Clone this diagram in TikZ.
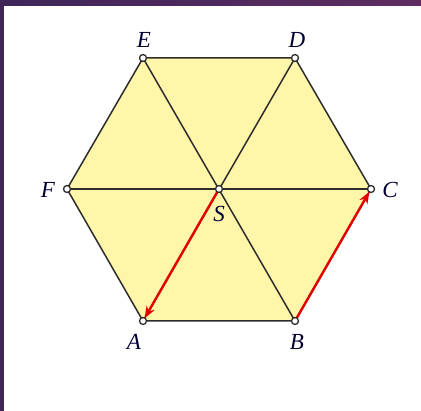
\documentclass[tikz,border=0pt]{standalone}
\usepackage{fontspec}
\setmainfont{Liberation Serif}
\usetikzlibrary{arrows.meta}
\definecolor{hexfill}{RGB}{255,246,170}
\definecolor{edgegray}{RGB}{45,45,45}
\definecolor{framel}{RGB}{62,38,88}
\definecolor{framer}{RGB}{94,44,98}
\begin{document}
\begin{tikzpicture}[x=1pt, y=-1pt,
    vertex/.style={circle, draw=edgegray, fill=white, line width=1.3pt, inner sep=0pt, minimum size=7pt},
    label/.style={font=\fontsize{23}{23}\selectfont\itshape, text=black!80!blue},
    edge/.style={draw=edgegray, line width=1.5pt},
    vec/.style={-{Stealth[length=12pt, width=9pt]}, draw=red!90!black, line width=2.4pt, shorten >=-1pt}
]
\useasboundingbox (0,0) rectangle (421,411);
% frame
\shade[left color=framel, right color=framer] (0,0) rectangle (421,6);
\fill[framel] (0,0) rectangle (4,411);
% Vertices of the hexagon
\coordinate (a) at (143,321);
\coordinate (b) at (295,321);
\coordinate (c) at (371,189);
\coordinate (d) at (295,58);
\coordinate (e) at (143,58);
\coordinate (f) at (67,189);
\coordinate (s) at (219,189);
\fill[hexfill] (a) -- (b) -- (c) -- (d) -- (e) -- (f) -- cycle;
\draw[edge] (a) -- (b) -- (c) -- (d) -- (e) -- (f) -- cycle;
\draw[edge] (e) -- (b);
\draw[edge] (d) -- (a);
\draw[edge] (f) -- (c);
% Markers
\node[vertex] (A) at (a) {};
\node[vertex] (B) at (b) {};
\node[vertex] (C) at (c) {};
\node[vertex] (D) at (d) {};
\node[vertex] (E) at (e) {};
\node[vertex] (F) at (f) {};
\node[vertex] (S) at (s) {};
% Vectors
\draw[vec] (S) -- (A);
\draw[vec] (B) -- (C);
% Labels
\node[label] (labA) at (134,342) {A};
\node[label] (labB) at (297,342) {B};
\node[label] (labC) at (390,190) {C};
\node[label] (labD) at (297,40) {D};
\node[label] (labE) at (144,40) {E};
\node[label] (labF) at (48,190) {F};
\node[label] (labS) at (219,214) {S};
\end{tikzpicture}
\end{document}
